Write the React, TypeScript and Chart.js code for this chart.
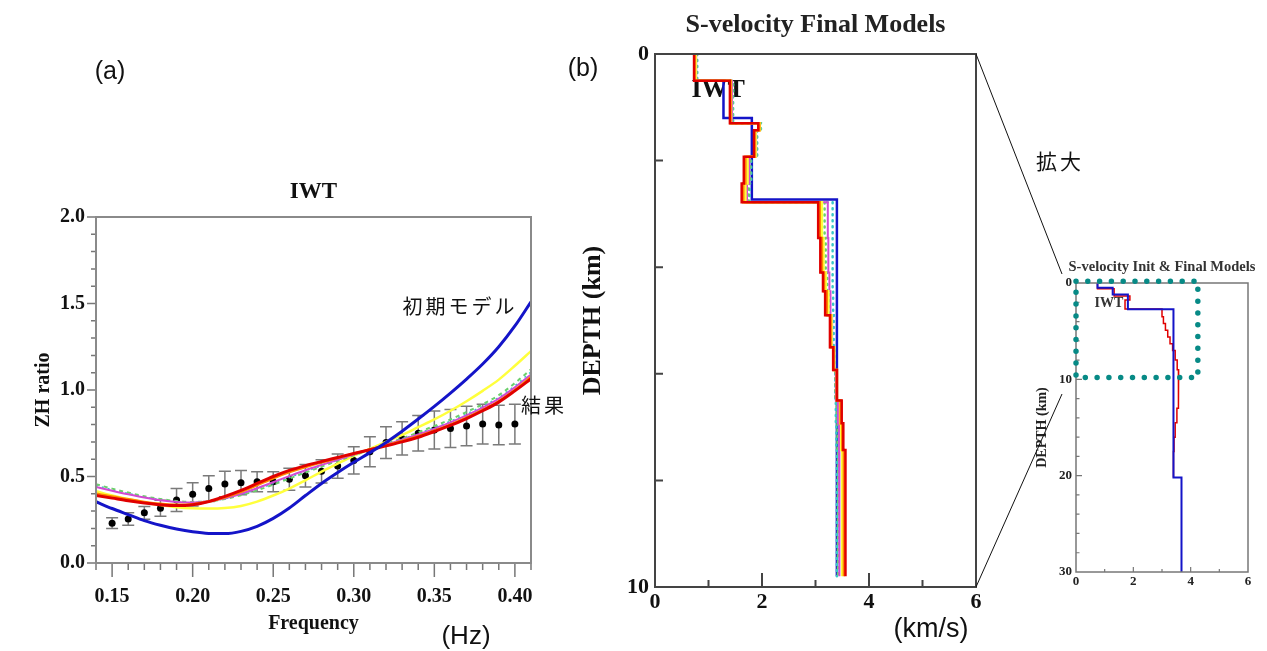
import React, { useEffect, useRef } from 'react';
import { Chart, registerables } from 'chart.js';

Chart.register(...registerables);
Chart.defaults.color = '#111';

const SERIF = '"Liberation Serif", "Times New Roman", serif';
const SANS = '"Liberation Sans", Arial, sans-serif';
const CJK = '"Noto Sans CJK JP", "Noto Sans CJK SC", sans-serif';

const BLUE = '#1414c8';
const RED = '#e00000';
const ORANGE = '#ff8a00';
const YELLOW = '#ffff3c';
const MAGENTA = '#d24ad2';
const GREEN = '#6ccf6c';
const CYAN = '#38c8c8';
const TEAL = '#078a86';

// ---------------- (a) ZH ratio vs frequency ----------------
const freqs = [0.14, 0.15, 0.16, 0.17, 0.18, 0.19, 0.2, 0.21, 0.22, 0.23, 0.24, 0.25, 0.26, 0.27, 0.28, 0.29, 0.3, 0.31, 0.32, 0.33, 0.34, 0.35, 0.36, 0.37, 0.38, 0.39, 0.4, 0.41];
const zhInitial = [0.354, 0.315, 0.28, 0.245, 0.218, 0.196, 0.18, 0.171, 0.17, 0.183, 0.212, 0.258, 0.318, 0.39, 0.46, 0.523, 0.582, 0.638, 0.697, 0.762, 0.832, 0.905, 0.982, 1.063, 1.15, 1.25, 1.37, 1.51];
const zhYellow = [0.415, 0.39, 0.37, 0.35, 0.335, 0.322, 0.316, 0.315, 0.318, 0.33, 0.355, 0.39, 0.43, 0.478, 0.528, 0.575, 0.62, 0.66, 0.7, 0.74, 0.785, 0.83, 0.88, 0.935, 0.995, 1.06, 1.14, 1.225];
const zhRed = [0.39, 0.375, 0.36, 0.347, 0.337, 0.332, 0.337, 0.355, 0.385, 0.42, 0.46, 0.5, 0.535, 0.563, 0.587, 0.61, 0.633, 0.655, 0.677, 0.7, 0.727, 0.76, 0.795, 0.835, 0.88, 0.93, 0.995, 1.065];
const zhOrange = [0.4, 0.385, 0.368, 0.353, 0.342, 0.337, 0.34, 0.355, 0.38, 0.412, 0.45, 0.49, 0.525, 0.555, 0.582, 0.607, 0.632, 0.656, 0.68, 0.705, 0.733, 0.765, 0.8, 0.84, 0.885, 0.935, 1.0, 1.075];
const zhMagenta = [0.44, 0.418, 0.397, 0.378, 0.363, 0.353, 0.35, 0.357, 0.374, 0.4, 0.432, 0.467, 0.502, 0.536, 0.567, 0.597, 0.627, 0.657, 0.685, 0.713, 0.743, 0.777, 0.813, 0.853, 0.898, 0.95, 1.015, 1.09];
const zhGreen = [0.455, 0.43, 0.407, 0.386, 0.37, 0.358, 0.353, 0.357, 0.37, 0.392, 0.42, 0.453, 0.488, 0.523, 0.557, 0.59, 0.622, 0.655, 0.688, 0.72, 0.755, 0.792, 0.83, 0.873, 0.918, 0.97, 1.04, 1.12];
const zhCyan = [0.448, 0.424, 0.402, 0.382, 0.366, 0.355, 0.351, 0.356, 0.371, 0.395, 0.425, 0.459, 0.494, 0.529, 0.562, 0.594, 0.625, 0.656, 0.686, 0.716, 0.749, 0.784, 0.82, 0.862, 0.907, 0.958, 1.025, 1.105];

const obsFreqs = [0.15, 0.16, 0.17, 0.18, 0.19, 0.2, 0.21, 0.22, 0.23, 0.24, 0.25, 0.26, 0.27, 0.28, 0.29, 0.3, 0.31, 0.32, 0.33, 0.34, 0.35, 0.36, 0.37, 0.38, 0.39, 0.4];
const obsZH = [0.23, 0.254, 0.29, 0.316, 0.364, 0.397, 0.43, 0.457, 0.464, 0.47, 0.47, 0.484, 0.505, 0.53, 0.56, 0.593, 0.643, 0.696, 0.72, 0.75, 0.769, 0.778, 0.792, 0.803, 0.798, 0.803];
const obsErr = [0.031, 0.036, 0.037, 0.046, 0.067, 0.067, 0.075, 0.074, 0.07, 0.058, 0.058, 0.063, 0.065, 0.067, 0.07, 0.079, 0.087, 0.092, 0.096, 0.103, 0.11, 0.11, 0.114, 0.115, 0.114, 0.115];

const zhXTicks = [0.15, 0.2, 0.25, 0.3, 0.35, 0.4];
const zhXMinor = [0.14, 0.16, 0.17, 0.18, 0.19, 0.21, 0.22, 0.23, 0.24, 0.26, 0.27, 0.28, 0.29, 0.31, 0.32, 0.33, 0.34, 0.36, 0.37, 0.38, 0.39, 0.41];
const zhYTicks = [0, 0.5, 1, 1.5, 2];
const zhYMinor = [0.1, 0.2, 0.3, 0.4, 0.6, 0.7, 0.8, 0.9, 1.1, 1.2, 1.3, 1.4, 1.6, 1.7, 1.8, 1.9];

// ---------------- (b) S-velocity final models ----------------
const initTops = [0, 0.5, 1.2, 2.73, 20.2];
const initVs = [0.75, 1.28, 1.81, 3.4, 3.68];
const initBottom = 30;

const finalTops = [0, 0.5, 1.3, 1.43, 1.93, 2.43, 2.78, 3.45, 4.1, 4.45, 4.9, 5.5, 5.93, 6.5, 6.93, 7.43];
const finalBottom = 9.8;
const vsRed = [0.73, 1.4, 1.93, 1.85, 1.66, 1.62, 3.05, 3.09, 3.14, 3.18, 3.27, 3.33, 3.4, 3.49, 3.52, 3.56];
const vsOrange = [0.74, 1.41, 1.95, 1.86, 1.69, 1.65, 3.08, 3.12, 3.16, 3.21, 3.28, 3.34, 3.4, 3.47, 3.5, 3.53];
const vsYellow = [0.76, 1.42, 1.96, 1.88, 1.73, 1.69, 3.12, 3.15, 3.19, 3.24, 3.3, 3.35, 3.4, 3.46, 3.48, 3.5];
const vsMagenta = [0.77, 1.44, 1.96, 1.89, 1.76, 1.72, 3.23, 3.24, 3.26, 3.28, 3.31, 3.35, 3.38, 3.42, 3.44, 3.45];
const vsGreen = [0.78, 1.45, 1.97, 1.9, 1.78, 1.75, 3.17, 3.19, 3.22, 3.25, 3.3, 3.34, 3.37, 3.4, 3.41, 3.42];
const vsCyan = [0.79, 1.46, 1.98, 1.91, 1.8, 1.77, 3.32, 3.32, 3.32, 3.33, 3.34, 3.36, 3.37, 3.38, 3.39, 3.4];

const velXTicks = [0, 2, 4, 6];
const velXMinor = [1, 3, 5];
const depthYTicksB = [0, 10];
const depthYMarksB = [2, 4, 6, 8];

// ---------------- inset: init & final ----------------
const insetTops = [0, 0.6, 1.35, 1.77, 2.7, 3.5, 4.2, 4.9, 5.6, 6.3, 7.0, 8.0, 9.0, 11.0, 13.0, 14.5, 16.0, 17.5];
const insetVs = [0.75, 1.33, 1.88, 1.71, 3.0, 3.05, 3.12, 3.2, 3.28, 3.37, 3.46, 3.53, 3.58, 3.57, 3.52, 3.46, 3.42, 3.4];
const insetBottom = 20.2;
const depthYTicksC = [0, 10, 20, 30];
const depthYMinorC = [2, 4, 6, 8, 12, 14, 16, 18, 22, 24, 26, 28];
const zoomBox = { v0: 0, v1: 4.25, d0: -0.17, d1: 9.8 };

// ---------------------------------------------------------------
function steps(tops: number[], vs: number[], bottom: number) {
  const pts: { x: number; y: number }[] = [];
  for (let i = 0; i < vs.length; i++) {
    const top = tops[i];
    if (top >= bottom) break;
    const next = i + 1 < tops.length ? tops[i + 1] : bottom;
    pts.push({ x: vs[i], y: top }, { x: vs[i], y: Math.min(next, bottom) });
  }
  return pts;
}

type Mark = { axis: 'x' | 'y'; values: number[]; len: number; inward: boolean };
type Note = { text: string; x: number; y: number; font: string; color: string };
type DecorCfg = {
  frameColor: string;
  frameWidth: number;
  markColor: string;
  markWidth: number;
  marks: Mark[];
  title?: { text: string; font: string; offset: number; color: string };
  notes?: Note[];
  errorBars?: { xs: number[]; ys: number[]; errs: number[]; color: string; cap: number; width: number };
  dotRect?: { x0: number; x1: number; y0: number; y1: number; color: string; size: number; gap: number };
};

function makeDecor(cfg: DecorCfg) {
  return {
    id: 'decor',
    beforeDatasetsDraw(chart: any) {
      const { ctx, scales } = chart;
      const xs = scales.x;
      const ys = scales.y;
      ctx.save();
      if (cfg.errorBars) {
        const e = cfg.errorBars;
        ctx.strokeStyle = e.color;
        ctx.lineWidth = e.width;
        ctx.beginPath();
        e.xs.forEach((xv, i) => {
          const px = xs.getPixelForValue(xv);
          const pTop = ys.getPixelForValue(e.ys[i] + e.errs[i]);
          const pBot = ys.getPixelForValue(e.ys[i] - e.errs[i]);
          ctx.moveTo(px, pTop);
          ctx.lineTo(px, pBot);
          ctx.moveTo(px - e.cap, pTop);
          ctx.lineTo(px + e.cap, pTop);
          ctx.moveTo(px - e.cap, pBot);
          ctx.lineTo(px + e.cap, pBot);
        });
        ctx.stroke();
      }
      if (cfg.notes) {
        for (const n of cfg.notes) {
          ctx.font = n.font;
          ctx.fillStyle = n.color;
          ctx.textAlign = 'center';
          ctx.textBaseline = 'middle';
          ctx.fillText(n.text, xs.getPixelForValue(n.x), ys.getPixelForValue(n.y));
        }
      }
      ctx.restore();
    },
    afterDraw(chart: any) {
      const { ctx, chartArea: a, scales } = chart;
      const xs = scales.x;
      const ys = scales.y;
      ctx.save();
      ctx.strokeStyle = cfg.markColor;
      ctx.lineWidth = cfg.markWidth;
      ctx.beginPath();
      for (const m of cfg.marks) {
        for (const v of m.values) {
          if (m.axis === 'x') {
            const px = xs.getPixelForValue(v);
            ctx.moveTo(px, a.bottom);
            ctx.lineTo(px, a.bottom + (m.inward ? -m.len : m.len));
          } else {
            const py = ys.getPixelForValue(v);
            ctx.moveTo(a.left, py);
            ctx.lineTo(a.left + (m.inward ? m.len : -m.len), py);
          }
        }
      }
      ctx.stroke();
      ctx.strokeStyle = cfg.frameColor;
      ctx.lineWidth = cfg.frameWidth;
      ctx.strokeRect(a.left, a.top, a.right - a.left, a.bottom - a.top);
      if (cfg.title) {
        const t = cfg.title;
        ctx.font = t.font;
        ctx.fillStyle = t.color;
        ctx.textAlign = 'center';
        ctx.textBaseline = 'middle';
        ctx.fillText(t.text, (a.left + a.right) / 2, a.top - t.offset);
      }
      if (cfg.dotRect) {
        const d = cfg.dotRect;
        const l = xs.getPixelForValue(d.x0);
        const r = xs.getPixelForValue(d.x1);
        const t1 = ys.getPixelForValue(d.y0);
        const b1 = ys.getPixelForValue(d.y1);
        const top = Math.min(t1, b1);
        const bot = Math.max(t1, b1);
        ctx.setLineDash([0, d.gap]);
        ctx.lineCap = 'round';
        ctx.lineWidth = d.size;
        ctx.strokeStyle = d.color;
        ctx.strokeRect(l, top, r - l, bot - top);
        ctx.setLineDash([]);
      }
      ctx.restore();
    },
  };
}

const fontObj = (size: number, bold = true, family = SERIF) => ({ family, size, weight: bold ? 'bold' : 'normal' });

function buildZH() {
  const line = (vals: number[], color: string, width: number, dash: number[] = []) => ({
    data: freqs.map((f, i) => ({ x: f, y: vals[i] })),
    borderColor: color,
    backgroundColor: color,
    borderWidth: width,
    borderDash: dash,
    pointRadius: 0,
    cubicInterpolationMode: 'monotone',
    fill: false,
  });
  // Chart.js paints the first dataset on top
  const datasets: any[] = [
    line(zhInitial, BLUE, 3),
    line(zhRed, RED, 3),
    line(zhOrange, ORANGE, 2.5),
    line(zhMagenta, MAGENTA, 2),
    line(zhGreen, GREEN, 2, [4, 4]),
    line(zhCyan, CYAN, 1.5, [2, 4]),
    line(zhYellow, YELLOW, 2.5),
    {
      data: obsFreqs.map((f, i) => ({ x: f, y: obsZH[i] })),
      showLine: false,
      pointRadius: 3.5,
      pointBackgroundColor: '#000',
      pointBorderColor: '#000',
      pointBorderWidth: 0,
      borderColor: '#000',
      backgroundColor: '#000',
    },
  ];
  return {
    type: 'line',
    data: { datasets },
    options: {
      animation: false,
      responsive: false,
      events: [],
      layout: { padding: { top: 47, right: 29, left: 0, bottom: 0 } },
      plugins: { legend: { display: false }, tooltip: { enabled: false } },
      scales: {
        x: {
          type: 'linear',
          min: 0.14,
          max: 0.41,
          afterFit: (s: any) => { s.height = 77; },
          afterBuildTicks: (s: any) => { s.ticks = zhXTicks.map((v) => ({ value: v })); },
          grid: { display: false, drawTicks: false },
          border: { display: false },
          ticks: { font: fontObj(20), color: '#111', padding: 22, autoSkip: false, maxRotation: 0, callback: (v: any) => Number(v).toFixed(2) },
          title: { display: true, text: 'Frequency', font: fontObj(20), color: '#111', padding: { top: 0, bottom: 4 } },
        },
        y: {
          type: 'linear',
          min: 0,
          max: 2,
          afterFit: (s: any) => { s.width = 76; },
          afterBuildTicks: (s: any) => { s.ticks = zhYTicks.map((v) => ({ value: v })); },
          grid: { display: false, drawTicks: false },
          border: { display: false },
          ticks: { font: fontObj(20), color: '#111', padding: 11, autoSkip: false, callback: (v: any) => Number(v).toFixed(1) },
          title: { display: true, text: 'ZH ratio', font: fontObj(20), color: '#111', padding: { top: 12, bottom: 0 } },
        },
      },
    },
    plugins: [
      makeDecor({
        frameColor: '#8a8a8a',
        frameWidth: 2,
        markColor: '#777',
        markWidth: 1.5,
        marks: [
          { axis: 'x', values: zhXTicks, len: 14, inward: false },
          { axis: 'x', values: zhXMinor, len: 7, inward: false },
          { axis: 'y', values: zhYTicks, len: 9, inward: false },
          { axis: 'y', values: zhYMinor, len: 5, inward: false },
        ],
        title: { text: 'IWT', font: `bold 23px ${SERIF}`, offset: 25, color: '#111' },
        errorBars: { xs: obsFreqs, ys: obsZH, errs: obsErr, color: '#7a7a7a', cap: 6, width: 1.5 },
      }),
    ],
  };
}

function buildFinal() {
  const ds = (vs: number[], color: string, width: number, dash: number[] = []) => ({
    data: steps(finalTops, vs, finalBottom),
    showLine: true,
    borderColor: color,
    backgroundColor: color,
    borderWidth: width,
    borderDash: dash,
    borderCapStyle: dash.length ? 'round' : 'butt',
    pointRadius: 0,
    tension: 0,
  });
  // Chart.js paints the first dataset on top
  const datasets: any[] = [
    ds(vsRed, RED, 2.5),
    ds(vsOrange, ORANGE, 2.5),
    ds(vsYellow, YELLOW, 2.5),
    ds(vsMagenta, MAGENTA, 2),
    ds(vsGreen, GREEN, 2.5, [1, 5]),
    ds(vsCyan, CYAN, 2.5, [1, 5]),
    { data: steps(initTops, initVs, finalBottom), showLine: true, borderColor: BLUE, backgroundColor: BLUE, borderWidth: 2.5, pointRadius: 0, tension: 0 },
  ];
  return {
    type: 'scatter',
    data: { datasets },
    options: {
      animation: false,
      responsive: false,
      events: [],
      layout: { padding: { top: 54, right: 24, left: 0, bottom: 0 } },
      plugins: { legend: { display: false }, tooltip: { enabled: false } },
      scales: {
        x: {
          type: 'linear',
          min: 0,
          max: 6,
          afterFit: (s: any) => { s.height = 64; },
          afterBuildTicks: (s: any) => { s.ticks = velXTicks.map((v) => ({ value: v })); },
          grid: { display: false, drawTicks: false },
          border: { display: false },
          ticks: { font: fontObj(22), color: '#111', padding: 2, autoSkip: false, maxRotation: 0 },
        },
        y: {
          type: 'linear',
          min: 0,
          max: 10,
          reverse: true,
          afterFit: (s: any) => { s.width = 95; },
          afterBuildTicks: (s: any) => { s.ticks = depthYTicksB.map((v) => ({ value: v })); },
          grid: { display: false, drawTicks: false },
          border: { display: false },
          ticks: { font: fontObj(22), color: '#111', padding: 6, autoSkip: false },
          title: { display: true, text: 'DEPTH (km)', font: fontObj(26), color: '#111', padding: { top: 18, bottom: 0 } },
        },
      },
    },
    plugins: [
      makeDecor({
        frameColor: '#444',
        frameWidth: 2,
        markColor: '#444',
        markWidth: 2,
        marks: [
          { axis: 'x', values: [2, 4], len: 14, inward: true },
          { axis: 'x', values: velXMinor, len: 7, inward: true },
          { axis: 'y', values: depthYMarksB, len: 8, inward: true },
        ],
        title: { text: 'S-velocity Final Models', font: `bold 26px ${SERIF}`, offset: 29, color: '#222' },
        notes: [{ text: 'IWT', x: 1.18, y: 0.69, font: `bold 26px ${SERIF}`, color: '#111' }],
      }),
    ],
  };
}

function buildInset() {
  // Chart.js paints the first dataset on top
  const datasets: any[] = [
    { data: steps(initTops, initVs, initBottom), showLine: true, borderColor: BLUE, backgroundColor: BLUE, borderWidth: 2, pointRadius: 0, tension: 0 },
    { data: steps(insetTops, insetVs, insetBottom), showLine: true, borderColor: RED, backgroundColor: RED, borderWidth: 1.5, pointRadius: 0, tension: 0 },
  ];
  return {
    type: 'scatter',
    data: { datasets },
    options: {
      animation: false,
      responsive: false,
      events: [],
      layout: { padding: { top: 33, right: 19, left: 0, bottom: 0 } },
      plugins: { legend: { display: false }, tooltip: { enabled: false } },
      scales: {
        x: {
          type: 'linear',
          min: 0,
          max: 6,
          afterFit: (s: any) => { s.height = 38; },
          afterBuildTicks: (s: any) => { s.ticks = velXTicks.map((v) => ({ value: v })); },
          grid: { display: false, drawTicks: false },
          border: { display: false },
          ticks: { font: fontObj(13), color: '#222', padding: 2, autoSkip: false, maxRotation: 0 },
        },
        y: {
          type: 'linear',
          min: 0,
          max: 30,
          reverse: true,
          afterFit: (s: any) => { s.width = 66; },
          afterBuildTicks: (s: any) => { s.ticks = depthYTicksC.map((v) => ({ value: v })); },
          grid: { display: false, drawTicks: false },
          border: { display: false },
          ticks: { font: fontObj(13), color: '#222', padding: 4, autoSkip: false },
          title: { display: true, text: 'DEPTH (km)', font: fontObj(14), color: '#222', padding: { top: 23.6, bottom: 0 } },
        },
      },
    },
    plugins: [
      makeDecor({
        frameColor: '#777',
        frameWidth: 1.5,
        markColor: '#777',
        markWidth: 1.2,
        marks: [
          { axis: 'x', values: [2, 4], len: 5, inward: true },
          { axis: 'x', values: velXMinor, len: 3, inward: true },
          { axis: 'y', values: [10, 20], len: 6, inward: true },
          { axis: 'y', values: depthYMinorC, len: 3.5, inward: true },
        ],
        title: { text: 'S-velocity Init & Final Models', font: `bold 14.5px ${SERIF}`, offset: 16, color: '#333' },
        notes: [{ text: 'IWT', x: 1.15, y: 2.08, font: `bold 14px ${SERIF}`, color: '#333' }],
        dotRect: { x0: zoomBox.v0, x1: zoomBox.v1, y0: zoomBox.d0, y1: zoomBox.d1, color: TEAL, size: 5.5, gap: 11.8 },
      }),
    ],
  };
}

function ChartBox(props: { left: number; top: number; width: number; height: number; build: () => any }) {
  const ref = useRef<HTMLCanvasElement | null>(null);
  useEffect(() => {
    if (!ref.current) return;
    const chart = new Chart(ref.current, props.build());
    return () => chart.destroy();
  }, []);
  return (
    <canvas
      ref={ref}
      width={props.width}
      height={props.height}
      style={{ position: 'absolute', left: props.left, top: props.top, width: props.width, height: props.height }}
    />
  );
}

const annotations = [
  { text: '(a)', x: 110, y: 70, size: 25, family: SANS, spacing: 0 },
  { text: '(b)', x: 583, y: 67, size: 25, family: SANS, spacing: 0 },
  { text: '(Hz)', x: 466, y: 635, size: 26, family: SANS, spacing: 0 },
  { text: '(km/s)', x: 931, y: 628, size: 27, family: SANS, spacing: 0 },
  { text: '拡大', x: 1060, y: 160, size: 21, family: CJK, spacing: 3 },
  { text: '初期モデル', x: 460, y: 306, size: 20, family: CJK, spacing: 3 },
  { text: '結果', x: 544, y: 405, size: 20, family: CJK, spacing: 3 },
];

export default function App() {
  return (
    <div style={{ position: 'absolute', left: 0, top: 0, width: 1267, height: 651, background: '#fff', overflow: 'hidden' }}>
      <ChartBox left={20} top={170} width={540} height={470} build={buildZH} />
      <ChartBox left={560} top={0} width={440} height={651} build={buildFinal} />
      <ChartBox left={1010} top={250} width={257} height={360} build={buildInset} />
      <svg width={1267} height={651} style={{ position: 'absolute', left: 0, top: 0, pointerEvents: 'none' }}>
        <line x1={976} y1={54} x2={1062} y2={274} stroke="#111" strokeWidth={1} />
        <line x1={976} y1={587} x2={1062} y2={394} stroke="#111" strokeWidth={1} />
      </svg>
      {annotations.map((a) => (
        <div
          key={a.text}
          style={{
            position: 'absolute',
            left: a.x,
            top: a.y,
            transform: 'translate(-50%, -50%)',
            fontFamily: a.family,
            fontSize: a.size,
            lineHeight: 1,
            letterSpacing: a.spacing,
            whiteSpace: 'nowrap',
            color: '#111',
          }}
        >
          {a.text}
        </div>
      ))}
    </div>
  );
}
